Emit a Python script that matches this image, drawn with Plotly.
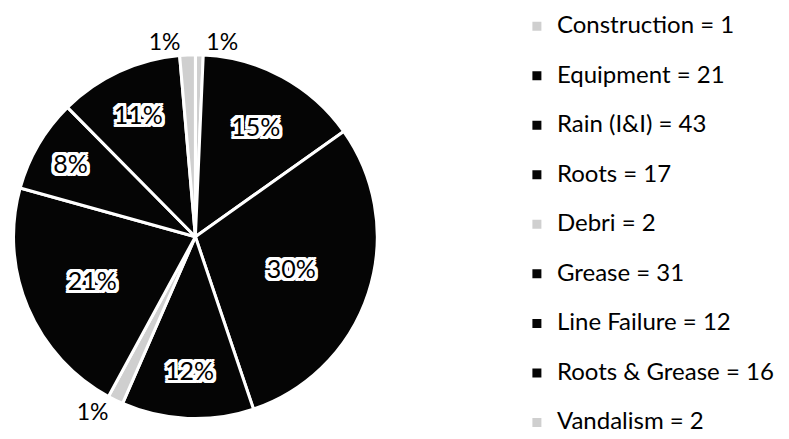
import plotly.graph_objects as go

categories = ["Construction", "Equipment", "Rain (I&I)", "Roots", "Debri",
              "Grease", "Line Failure", "Roots & Grease", "Vandalism"]
values = [1, 21, 43, 17, 2, 31, 12, 16, 2]
pct_labels = ["1%", "15%", "30%", "12%", "1%", "21%", "8%", "11%", "1%"]

n = len(categories)
legend_labels = [
    f"<span style='font-size:24px'>{c} = {v}</span>" + ("<br> " if i < n - 1 else "")
    for i, (c, v) in enumerate(zip(categories, values))
]
slice_colors = ["#cfcfcf" if v <= 2 else "#050505" for v in values]
text_pos = ["outside" if v <= 2 else "inside" for v in values]

halo = ", ".join(f"{dx}px {dy}px 0 white"
                 for dx in (-3, -2, 0, 2, 3) for dy in (-3, -2, 0, 2, 3)
                 if not (dx == 0 and dy == 0))

fig = go.Figure(go.Pie(
    labels=legend_labels,
    values=values,
    text=pct_labels,
    textinfo="text",
    textposition=text_pos,
    insidetextorientation="horizontal",
    sort=False,
    direction="clockwise",
    rotation=0,
    marker=dict(colors=slice_colors, line=dict(color="white", width=3)),
    insidetextfont=dict(family="Lato, Open Sans, sans-serif", size=25, color="black",
                        shadow=halo),
    outsidetextfont=dict(family="Lato, Open Sans, sans-serif", size=23, color="black",
                         shadow="none"),
    domain=dict(x=[0.007, 0.468], y=[0.06, 0.898]),
    hoverinfo="label+value",
))

fig.update_layout(
    width=789, height=439,
    margin=dict(l=0, r=0, t=0, b=0),
    paper_bgcolor="white",
    plot_bgcolor="white",
    font=dict(family="Lato, Open Sans, sans-serif", color="black"),
    legend=dict(
        x=0.645, y=0.526, xanchor="left", yanchor="middle",
        font=dict(size=17.9, family="Lato, Open Sans, sans-serif", color="black"),
        valign="top",
        bgcolor="rgba(0,0,0,0)",
    ),
    showlegend=True,
)

fig.write_html("out.html")
